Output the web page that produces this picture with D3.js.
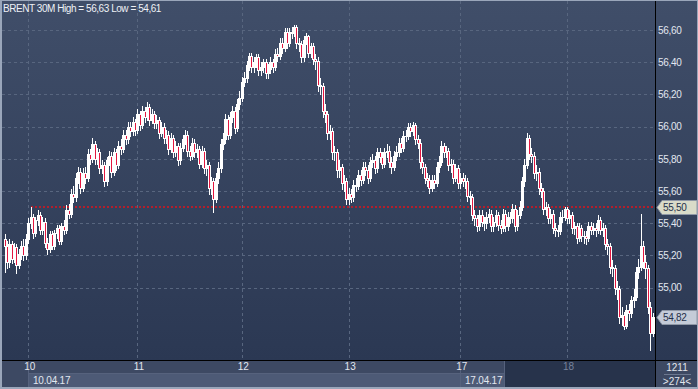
<!DOCTYPE html>
<html>
<head>
<meta charset="utf-8">
<script src="https://cdn.jsdelivr.net/npm/d3@7"></script>
<style>
  html, body { margin: 0; padding: 0; background: #9aa6ba; }
  svg { display: block; }
  text { font-family: "Liberation Sans", Arial, sans-serif; }
</style>
</head>
<body>
<div id="chart"></div>
<script>
// BRENT 30M candles
var opens = [
  55.30,55.26,55.16,55.27,55.18,55.25,55.14,55.21,55.26,55.20,
  55.30,55.40,55.44,55.34,55.42,55.45,55.36,55.41,55.28,55.24,
  55.33,55.26,55.34,55.37,55.29,55.38,55.36,55.48,55.46,55.58,
  55.56,55.68,55.72,55.62,55.71,55.68,55.83,55.80,55.89,55.80,
  55.84,55.74,55.76,55.66,55.79,55.82,55.72,55.84,55.76,55.88,
  55.86,55.95,55.92,56.00,55.97,56.03,55.98,56.08,56.01,56.10,
  56.06,56.12,56.04,56.08,56.02,56.04,55.96,56.00,55.93,55.95,
  55.86,55.93,55.84,55.88,55.79,55.87,55.92,55.95,55.85,55.82,
  55.90,55.84,55.86,55.77,55.85,55.74,55.76,55.62,55.66,55.55,
  55.68,55.74,55.89,55.92,56.05,55.95,56.06,56.10,55.99,56.14,
  56.18,56.28,56.30,56.38,56.44,56.37,56.40,56.43,56.35,56.37,
  56.40,56.33,56.36,56.40,56.37,56.45,56.44,56.52,56.49,56.59,
  56.52,56.59,56.58,56.62,56.52,56.51,56.43,56.54,56.56,56.46,
  56.50,56.42,56.41,56.26,56.25,56.10,56.08,55.96,55.97,55.84,
  55.84,55.73,55.75,55.65,55.66,55.55,55.58,55.56,55.64,55.63,
  55.70,55.67,55.75,55.73,55.68,55.78,55.79,55.74,55.84,55.81,
  55.77,55.84,55.85,55.78,55.75,55.82,55.84,55.90,55.87,55.94,
  55.94,56.00,55.97,56.01,55.92,55.90,55.78,55.75,55.68,55.67,
  55.62,55.67,55.65,55.75,55.78,55.88,55.84,55.85,55.76,55.77,
  55.68,55.74,55.65,55.68,55.66,55.66,55.57,55.56,55.45,55.43,
  55.38,55.45,55.41,55.40,55.44,55.46,55.38,55.41,55.45,55.39,
  55.37,55.46,55.38,55.44,55.43,55.49,55.38,55.45,55.50,55.66,
  55.76,55.93,55.83,55.82,55.71,55.72,55.62,55.60,55.49,55.50,
  55.43,55.46,55.37,55.36,55.35,55.44,55.44,55.49,55.43,55.45,
  55.37,55.38,55.31,55.37,55.32,55.32,55.31,55.38,55.36,55.37,
  55.36,55.42,55.36,55.37,55.27,55.26,55.13,55.12,55.00,54.99,
  54.82,54.83,54.76,54.86,54.84,54.92,54.94,55.10,55.13,55.26,
  55.16,55.12,54.88,54.72
];
var highs = [
  55.33,55.29,55.30,55.29,55.28,55.27,55.24,55.29,55.30,55.33,
  55.43,55.50,55.46,55.44,55.48,55.47,55.44,55.43,55.31,55.35,
  55.35,55.36,55.39,55.39,55.40,55.42,55.51,55.52,55.61,55.63,
  55.71,55.75,55.74,55.74,55.75,55.86,55.86,55.93,55.91,55.87,
  55.86,55.79,55.78,55.81,55.85,55.84,55.87,55.86,55.91,55.92,
  55.98,55.98,56.03,56.03,56.06,56.05,56.11,56.10,56.13,56.12,
  56.15,56.14,56.11,56.10,56.07,56.06,56.03,56.02,55.98,55.97,
  55.96,55.95,55.91,55.90,55.90,55.95,55.98,55.97,55.88,55.93,
  55.92,55.89,55.88,55.88,55.87,55.79,55.78,55.69,55.68,55.71,
  55.78,55.92,55.96,56.08,56.07,56.09,56.13,56.12,56.17,56.22,
  56.31,56.34,56.41,56.46,56.46,56.43,56.45,56.45,56.40,56.42,
  56.42,56.39,56.43,56.42,56.48,56.49,56.55,56.55,56.61,56.61,
  56.61,56.62,56.63,56.63,56.55,56.53,56.56,56.58,56.57,56.52,
  56.52,56.45,56.43,56.30,56.27,56.14,56.10,56.01,55.99,55.88,
  55.86,55.79,55.77,55.70,55.68,55.62,55.61,55.67,55.68,55.73,
  55.73,55.78,55.78,55.76,55.81,55.83,55.82,55.87,55.87,55.84,
  55.87,55.89,55.88,55.81,55.85,55.88,55.93,55.93,55.97,55.98,
  56.02,56.02,56.03,56.02,55.95,55.92,55.81,55.77,55.71,55.70,
  55.70,55.70,55.78,55.82,55.91,55.90,55.88,55.87,55.80,55.79,
  55.77,55.76,55.71,55.71,55.70,55.68,55.60,55.58,55.48,55.45,
  55.48,55.48,55.44,55.47,55.49,55.48,55.44,55.48,55.47,55.42,
  55.49,55.48,55.47,55.47,55.52,55.51,55.48,55.54,55.69,55.80,
  55.96,55.95,55.87,55.84,55.76,55.74,55.65,55.62,55.53,55.52,
  55.49,55.48,55.40,55.39,55.47,55.48,55.50,55.50,55.48,55.47,
  55.41,55.40,55.40,55.39,55.35,55.35,55.41,55.41,55.40,55.40,
  55.45,55.44,55.40,55.39,55.30,55.28,55.17,55.14,55.04,55.01,
  54.88,54.85,54.89,54.90,54.95,54.99,55.13,55.18,55.46,55.29,
  55.20,55.14,54.91,54.84
];
var lows = [
  55.10,55.12,55.13,55.15,55.16,55.09,55.12,55.18,55.17,55.18,
  55.28,55.37,55.31,55.32,55.39,55.33,55.33,55.25,55.21,55.22,
  55.24,55.24,55.31,55.27,55.27,55.33,55.34,55.43,55.44,55.53,
  55.54,55.65,55.59,55.60,55.65,55.66,55.77,55.78,55.77,55.77,
  55.71,55.71,55.63,55.64,55.76,55.69,55.70,55.73,55.74,55.83,
  55.84,55.89,55.90,55.94,55.95,55.95,55.96,55.98,55.99,56.03,
  56.04,56.01,56.02,55.99,55.99,55.93,55.94,55.90,55.90,55.83,
  55.84,55.81,55.82,55.76,55.77,55.85,55.89,55.82,55.79,55.80,
  55.81,55.81,55.74,55.75,55.71,55.70,55.58,55.58,55.47,55.53,
  55.65,55.72,55.86,55.90,55.92,55.93,56.03,55.96,55.97,56.11,
  56.16,56.25,56.28,56.35,56.34,56.34,56.37,56.32,56.32,56.34,
  56.30,56.30,56.33,56.34,56.35,56.41,56.42,56.46,56.47,56.49,
  56.50,56.55,56.56,56.49,56.47,56.40,56.41,56.51,56.43,56.43,
  56.39,56.36,56.22,56.20,56.06,56.03,55.92,55.92,55.80,55.79,
  55.69,55.69,55.61,55.60,55.52,55.52,55.53,55.54,55.60,55.61,
  55.64,55.65,55.70,55.65,55.66,55.75,55.71,55.72,55.78,55.74,
  55.75,55.81,55.75,55.71,55.73,55.79,55.82,55.84,55.85,55.91,
  55.92,55.94,55.95,55.89,55.87,55.74,55.71,55.65,55.63,55.59,
  55.60,55.62,55.63,55.72,55.76,55.81,55.81,55.73,55.72,55.65,
  55.66,55.62,55.62,55.63,55.62,55.54,55.52,55.42,55.39,55.35,
  55.36,55.38,55.36,55.37,55.41,55.35,55.35,55.38,55.36,55.34,
  55.35,55.35,55.36,55.40,55.41,55.35,55.36,55.43,55.48,55.63,
  55.74,55.80,55.78,55.68,55.67,55.58,55.56,55.46,55.45,55.40,
  55.40,55.34,55.32,55.32,55.33,55.41,55.42,55.40,55.40,55.34,
  55.33,55.28,55.29,55.29,55.28,55.27,55.29,55.33,55.33,55.32,
  55.34,55.33,55.32,55.24,55.21,55.09,55.07,54.96,54.93,54.78,
  54.77,54.74,54.75,54.80,54.82,54.88,54.92,55.06,55.11,55.12,
  55.06,54.84,54.61,54.70
];
var closes = [
  55.26,55.16,55.27,55.18,55.25,55.14,55.21,55.26,55.20,55.30,
  55.40,55.44,55.34,55.42,55.45,55.36,55.41,55.28,55.24,55.33,
  55.26,55.34,55.37,55.29,55.38,55.36,55.48,55.46,55.58,55.56,
  55.68,55.72,55.62,55.71,55.68,55.83,55.80,55.89,55.80,55.84,
  55.74,55.76,55.66,55.79,55.82,55.72,55.84,55.76,55.88,55.86,
  55.95,55.92,56.00,55.97,56.03,55.98,56.08,56.01,56.10,56.06,
  56.12,56.04,56.08,56.02,56.04,55.96,56.00,55.93,55.95,55.86,
  55.93,55.84,55.88,55.79,55.87,55.92,55.95,55.85,55.82,55.90,
  55.84,55.86,55.77,55.85,55.74,55.76,55.62,55.66,55.55,55.68,
  55.74,55.89,55.92,56.05,55.95,56.06,56.10,55.99,56.14,56.18,
  56.28,56.30,56.38,56.44,56.37,56.40,56.43,56.35,56.37,56.40,
  56.33,56.36,56.40,56.37,56.45,56.44,56.52,56.49,56.59,56.52,
  56.59,56.58,56.62,56.52,56.51,56.43,56.54,56.56,56.46,56.50,
  56.42,56.41,56.26,56.25,56.10,56.08,55.96,55.97,55.84,55.84,
  55.73,55.75,55.65,55.66,55.55,55.58,55.56,55.64,55.63,55.70,
  55.67,55.75,55.73,55.68,55.78,55.79,55.74,55.84,55.81,55.77,
  55.84,55.85,55.78,55.75,55.82,55.84,55.90,55.87,55.94,55.94,
  56.00,55.97,56.01,55.92,55.90,55.78,55.75,55.68,55.67,55.62,
  55.67,55.65,55.75,55.78,55.88,55.84,55.85,55.76,55.77,55.68,
  55.74,55.65,55.68,55.66,55.66,55.57,55.56,55.45,55.43,55.38,
  55.45,55.41,55.40,55.44,55.46,55.38,55.41,55.45,55.39,55.37,
  55.46,55.38,55.44,55.43,55.49,55.38,55.45,55.50,55.66,55.76,
  55.93,55.83,55.82,55.71,55.72,55.62,55.60,55.49,55.50,55.43,
  55.46,55.37,55.36,55.35,55.44,55.44,55.49,55.43,55.45,55.37,
  55.38,55.31,55.37,55.32,55.32,55.31,55.38,55.36,55.37,55.36,
  55.42,55.36,55.37,55.27,55.26,55.13,55.12,55.00,54.99,54.82,
  54.83,54.76,54.86,54.84,54.92,54.94,55.10,55.13,55.26,55.16,
  55.12,54.88,54.72,54.82
];

// day ticks (bar index where each day starts) and their labels
var dayIdx = [10, 56, 100, 145, 192, 237];
var dayLabels = ["10", "11", "12", "13", "17", "18"];
var weekIdx = [10, 192];
var weekLabels = ["10.04.17", "17.04.17"];
var priceTicks = [55.0, 55.2, 55.4, 55.6, 55.8, 56.0, 56.2, 56.4, 56.6];
var refLevel = 55.50, refFrom = 11;
var lastPrice = 54.82;
var title = "BRENT 30M High = 56,63 Low = 54,61";
var cornerTop = "1211", cornerBottom = ">274<";

var W = 698, H = 389;
var plot = {left: 2, top: 1, right: 655, bottom: 360};

var svg = d3.select("#chart").append("svg")
    .attr("width", W)
    .attr("height", H);

var defs = svg.append("defs");
var grad = defs.append("linearGradient")
    .attr("id", "bg").attr("x1", 0).attr("y1", 0).attr("x2", 0).attr("y2", 1);
grad.append("stop").attr("offset", "0%").attr("stop-color", "#404e69");
grad.append("stop").attr("offset", "100%").attr("stop-color", "#2b3853");

// frame
svg.append("rect").attr("width", W).attr("height", H).attr("fill", "#9aa6ba");
svg.append("rect")
    .attr("x", plot.left).attr("y", plot.top)
    .attr("width", W - 1 - plot.left).attr("height", plot.bottom - plot.top)
    .attr("fill", "url(#bg)");

// bottom panel
svg.append("rect").attr("x", plot.left).attr("y", plot.bottom)
    .attr("width", W - 1 - plot.left).attr("height", 27).attr("fill", "#3d4963");

var x = d3.scaleLinear().domain([0, closes.length - 1]).range([4.5, 652.5]);
var y = d3.scaleLinear().domain([54.6, 56.6]).range([352, 30]);
var fmt = function(v) { return d3.format(".2f")(v).replace(".", ","); };

// week boxes in the lower row
svg.append("rect").attr("x", Math.round(x(weekIdx[0]))).attr("y", 374)
    .attr("width", Math.round(x(weekIdx[1])) - Math.round(x(weekIdx[0]))).attr("height", 13)
    .attr("fill", "#4d5a76");
svg.append("rect").attr("x", Math.round(x(weekIdx[1]))).attr("y", 374)
    .attr("width", 505 - Math.round(x(weekIdx[1]))).attr("height", 13)
    .attr("fill", "#4d5a76");
svg.append("line").attr("x1", Math.round(x(weekIdx[0]))).attr("x2", 505)
    .attr("y1", 373.5).attr("y2", 373.5).attr("stroke", "#56627d");
weekIdx.forEach(function(d) {
  svg.append("line").attr("x1", Math.round(x(d)) + 0.5).attr("x2", Math.round(x(d)) + 0.5)
      .attr("y1", 361).attr("y2", 387).attr("stroke", "#56627d");
});
// dark scroll area
svg.append("rect").attr("x", 505).attr("y", 361).attr("width", 150).attr("height", 26)
    .attr("fill", "#27334b");
svg.append("line").attr("x1", 504.5).attr("x2", 504.5).attr("y1", 361).attr("y2", 387)
    .attr("stroke", "#56627d");

// grid
var gridG = svg.append("g");
gridG.selectAll(".hg").data(priceTicks).enter().append("line")
    .attr("x1", plot.left).attr("x2", plot.right)
    .attr("y1", function(d) { return Math.round(y(d)) + 0.5; })
    .attr("y2", function(d) { return Math.round(y(d)) + 0.5; })
    .attr("stroke", "#58667f").attr("stroke-dasharray", "3,3");
gridG.selectAll(".vg").data(dayIdx).enter().append("line")
    .attr("x1", function(d) { return Math.round(x(d)) + 0.5; })
    .attr("x2", function(d) { return Math.round(x(d)) + 0.5; })
    .attr("y1", plot.top).attr("y2", plot.bottom)
    .attr("stroke", "#58667f").attr("stroke-dasharray", "3,3");

// reference line
svg.append("line")
    .attr("x1", Math.round(x(refFrom))).attr("x2", plot.right)
    .attr("y1", Math.round(y(refLevel))).attr("y2", Math.round(y(refLevel)))
    .attr("stroke", "#b41e2b").attr("stroke-width", 2).attr("stroke-dasharray", "2,2");

// candles
var idx = d3.range(closes.length);
var cg = svg.append("g");
cg.selectAll(".wick").data(idx).enter().append("line")
    .attr("x1", function(i) { return Math.round(x(i)) + 0.5; })
    .attr("x2", function(i) { return Math.round(x(i)) + 0.5; })
    .attr("y1", function(i) { return Math.round(y(highs[i])); })
    .attr("y2", function(i) { return Math.round(y(lows[i])) + 1; })
    .attr("stroke", "#ffffff");
cg.selectAll(".body").data(idx).enter().append("rect")
    .attr("x", function(i) { return Math.round(x(i)) - 1; })
    .attr("y", function(i) { return Math.round(y(Math.max(opens[i], closes[i]))); })
    .attr("width", 3)
    .attr("height", function(i) {
      return Math.max(1, Math.round(y(Math.min(opens[i], closes[i]))) - Math.round(y(Math.max(opens[i], closes[i]))) + 1);
    })
    .attr("fill", "#ffffff");
cg.selectAll(".down").data(idx.filter(function(i) { return closes[i] < opens[i]; })).enter().append("rect")
    .attr("x", function(i) { return Math.round(x(i)); })
    .attr("y", function(i) { return Math.round(y(opens[i])) + 1; })
    .attr("width", 1)
    .attr("height", function(i) { return Math.max(0, Math.round(y(closes[i])) - Math.round(y(opens[i])) - 1); })
    .attr("fill", "#e3163f");

// separators
svg.append("line").attr("x1", plot.right + 0.5).attr("x2", plot.right + 0.5)
    .attr("y1", plot.top).attr("y2", 387).attr("stroke", "#000");
svg.append("line").attr("x1", plot.left).attr("x2", W - 1)
    .attr("y1", plot.bottom + 0.5).attr("y2", plot.bottom + 0.5).attr("stroke", "#000");

// right price axis
var yAxis = svg.append("g")
    .attr("transform", "translate(" + plot.right + ",0)")
    .call(d3.axisRight(y).tickValues(priceTicks).tickSize(0).tickPadding(3).tickFormat(fmt));
yAxis.select(".domain").remove();
yAxis.selectAll("text").attr("fill", "#e2e7ef").attr("font-size", 10)
    .attr("letter-spacing", -0.3).attr("font-family", "Liberation Sans, Arial, sans-serif");

// bottom day axis
var xAxis = svg.append("g")
    .attr("transform", "translate(0," + (plot.bottom + 1) + ")")
    .call(d3.axisBottom(x).tickValues(dayIdx).tickSize(0).tickPadding(2)
      .tickFormat(function(d, i) { return dayLabels[i]; }));
xAxis.select(".domain").remove();
xAxis.selectAll("text")
    .attr("fill", function(d) { return x(d) > 505 ? "#76829a" : "#e2e7ef"; })
    .attr("font-size", 10).attr("font-family", "Liberation Sans, Arial, sans-serif")
    .attr("dx", 1);

// week labels
svg.selectAll(".wk").data(weekIdx).enter().append("text")
    .attr("x", function(d) { return Math.round(x(d)) + 5; })
    .attr("y", 384)
    .attr("fill", "#e2e7ef").attr("font-size", 10).attr("letter-spacing", -0.2)
    .text(function(d, i) { return weekLabels[i]; });

// price markers
function marker(v, fill) {
  var yc = Math.round(y(v)) + 0.5;
  svg.append("path")
      .attr("d", "M657," + yc + "L662," + (yc - 7) + "L697," + (yc - 7) + "L697," + (yc + 7) + "L662," + (yc + 7) + "Z")
      .attr("fill", fill).attr("stroke", "#8e97a6");
  svg.append("text").attr("x", 663).attr("y", yc + 3.5)
      .attr("fill", "#24304a").attr("font-size", 10).attr("letter-spacing", -0.3)
      .text(fmt(v));
}
marker(refLevel, "#d9dbc9");
marker(lastPrice, "#c4cbd8");

// corner
svg.append("text").attr("x", 677).attr("y", 371).attr("text-anchor", "middle")
    .attr("fill", "#e2e7ef").attr("font-size", 10).text(cornerTop);
svg.append("line").attr("x1", 664).attr("x2", 691).attr("y1", 374.5).attr("y2", 374.5)
    .attr("stroke", "#6c7890");
svg.append("text").attr("x", 677).attr("y", 385).attr("text-anchor", "middle")
    .attr("fill", "#e2e7ef").attr("font-size", 10).text(cornerBottom);

// title
svg.append("text").attr("x", 3).attr("y", 12)
    .attr("fill", "#eef1f6").attr("font-size", 10).attr("letter-spacing", -0.45)
    .text(title);
</script>
</body>
</html>
